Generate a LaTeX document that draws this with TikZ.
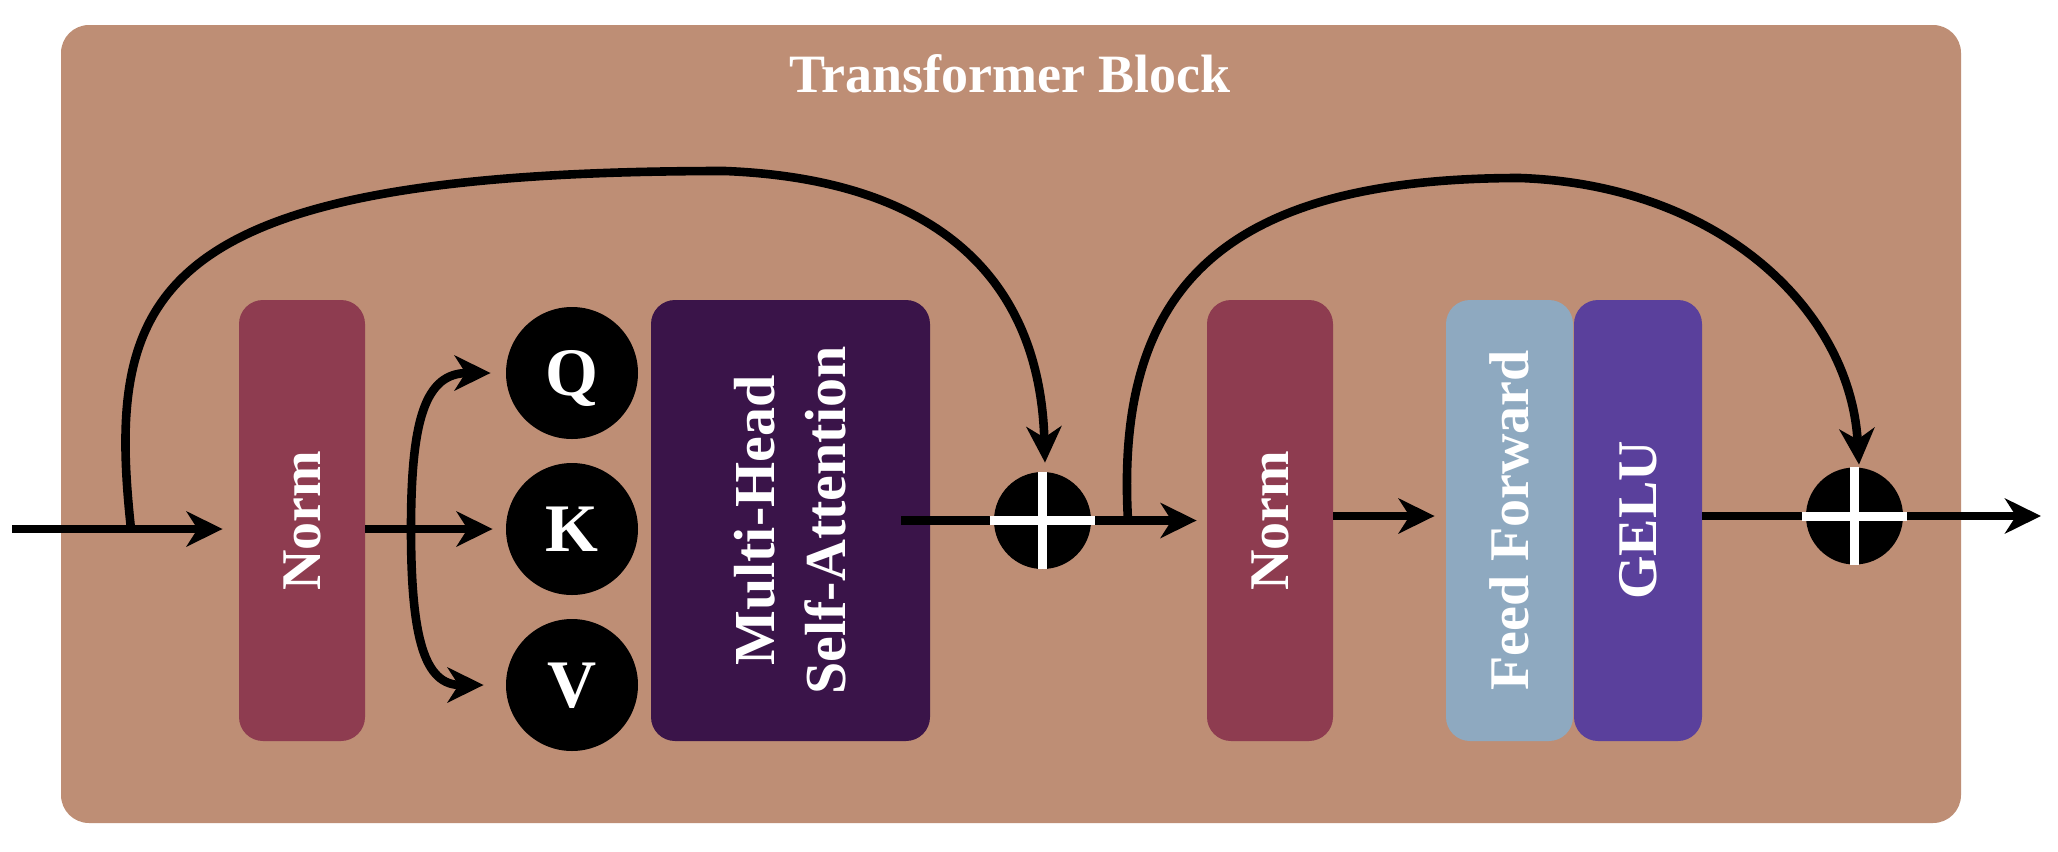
\documentclass[tikz,border=0pt]{standalone}
\usepackage{fontspec}
\setmainfont{Liberation Serif}
\usetikzlibrary{arrows.meta,calc}
\definecolor{bgc}{RGB}{190,142,117}
\definecolor{normc}{RGB}{142,60,80}
\definecolor{mhsac}{RGB}{58,20,73}
\definecolor{ffc}{RGB}{142,169,192}
\definecolor{geluc}{RGB}{90,64,156}
\tikzset{
 blk/.style={rectangle, rounded corners=12pt, inner sep=0pt, minimum width=63pt, minimum height=220.5pt},
 lbl/.style={rotate=90, text=white, font=\fontsize{28}{34}\selectfont\bfseries, inner sep=0pt},
 qkv/.style={circle, fill=black, minimum size=66pt, inner sep=0pt, text=white, text height=22pt, text depth=0pt, font=\fontsize{34}{40}\selectfont\bfseries},
 plus/.style={circle, fill=black, minimum size=48.5pt, inner sep=0pt},
 conn/.style={line width=4.3pt},
 arr/.style={conn, -{Stealth[length=18pt,width=17.5pt,inset=5.5pt]}},
 cross/.style={white, line width=4.5pt},
}
\begin{document}
\begin{tikzpicture}[x=0.5pt,y=-0.5pt]
\useasboundingbox (0,0) rectangle (2058,852);
\fill[white] (0,0) rectangle (2058,852);
\node[fill=bgc, rounded corners=14pt, minimum width=950pt, minimum height=399pt, inner sep=0pt] (bg) at (1011,424) {};
\node[text=white, font=\fontsize{27}{32}\selectfont\bfseries, anchor=base, inner sep=0pt] (title) at (1010,92) {Transformer Block};

\node[blk, fill=normc] (norm1) at (302,520.5) {};
\node[blk, fill=mhsac, minimum width=139.5pt] (mhsa) at (790.5,520.5) {};
\node[blk, fill=normc] (norm2) at (1270,520.5) {};
\node[blk, fill=ffc, minimum width=63.5pt] (ff) at (1509.5,520.5) {};
\node[blk, fill=geluc, minimum width=64pt] (gelu) at (1638,520.5) {};

\node[lbl] (tn1) at (norm1) {Norm};
\node[lbl, align=center, font=\fontsize{29}{35.5}\selectfont\bfseries] (tm) at (mhsa) {Multi-Head\\Self-Attention};
\node[lbl] (tn2) at (norm2) {Norm};
\node[lbl] (tff) at (ff) {Feed Forward};
\node[lbl] (tg) at (gelu) {GELU};

\node[qkv] (Q) at (572,373) {Q};
\node[qkv] (K) at (572,529) {K};
\node[qkv] (V) at (572,685) {V};

\coordinate (in) at (12,529);
\coordinate (br) at (411,529);
\coordinate (s1) at (131,529);
\coordinate (t1) at (725,171);
\coordinate (s2) at (1128,520.5);
\coordinate (t2) at (1520,178);
\coordinate (out) at (2041,516);

\node[plus] (p1) at (1042.5,520.5) {};
\node[plus] (p2) at (1854.5,516) {};

\draw[arr, shorten >=8pt] (in) -- (in -| norm1.west);
\draw[arr, shorten >=6.5pt] (norm1.east |- K) -- (K.west);
\draw[arr, shorten >=7.5pt] (br) .. controls (411,420) and (425,373) .. (Q.west);
\draw[arr, shorten >=11pt] (br) .. controls (411,640) and (425,685) .. (V.west);
\draw[conn] ([xshift=-14.5pt]mhsa.east) -- (p1.west);
\draw[arr, shorten >=5pt] (p1.east) -- (norm2.west);
\draw[arr, shorten >=5.5pt] (norm2.east |- p2) -- (ff.west |- p2);
\draw[conn] (gelu.east |- p2) -- (p2.west);
\draw[arr] (p2.east) -- (out);

\draw[arr] (s1) .. controls (105,290) and (150,171) .. (t1) .. controls (950,180) and (1040,290) .. ($(p1.north)+(2.5,-9)$);
\draw[arr] (s2) .. controls (1115,290) and (1220,178) .. (t2) .. controls (1720,185) and (1850,310) .. ($(p2.north)+(4.5,-2.5)$);

\draw[cross] ([xshift=-2pt]p1.west) -- ([xshift=2pt]p1.east);
\draw[cross] (p1.north) -- (p1.south);
\draw[cross] ([xshift=-2pt]p2.west) -- ([xshift=2pt]p2.east);
\draw[cross] (p2.north) -- (p2.south);
\end{tikzpicture}
\end{document}
